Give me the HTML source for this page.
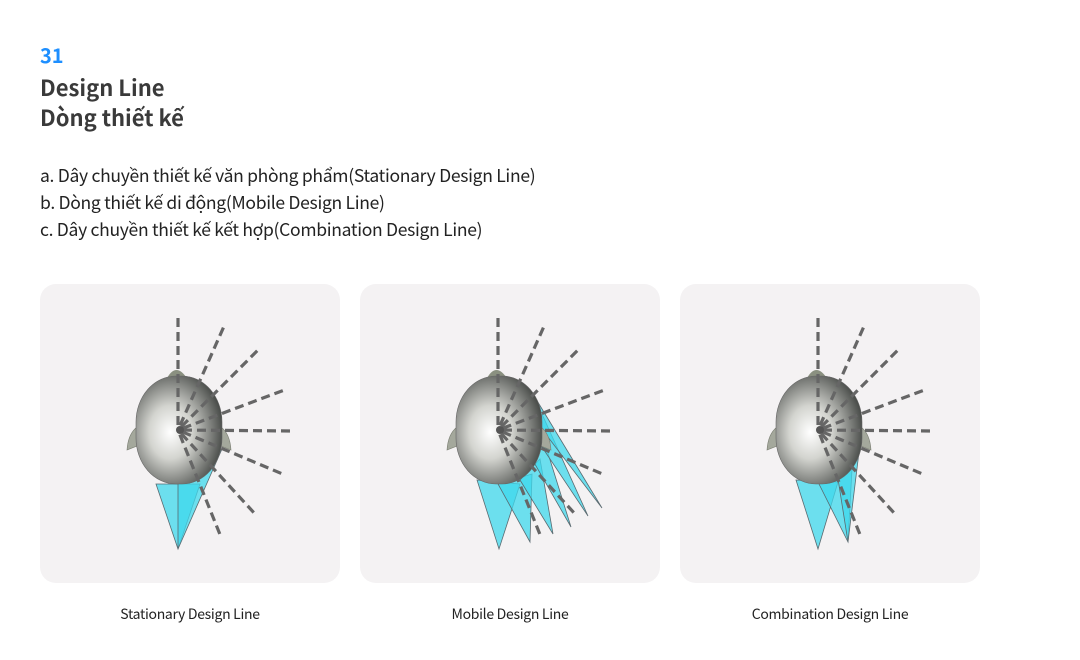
<!DOCTYPE html>
<html><head><meta charset="utf-8">
<style>
body{margin:0;width:1080px;height:660px;background:#fff;font-family:"Noto Sans CJK KR","Liberation Sans",sans-serif;color:#333;position:relative;overflow:hidden}
.num{position:absolute;left:40px;top:40px;font-size:20px;font-weight:bold;color:#1e8fff;line-height:30px}
.t1{position:absolute;left:40px;top:71px;font-size:22px;font-weight:bold;color:#3a3a3a;line-height:32px}
.t2{position:absolute;left:40px;top:101px;font-size:22px;font-weight:bold;color:#3a3a3a;line-height:32px}
.li{position:absolute;left:40px;font-size:17.5px;color:#222;line-height:24px;letter-spacing:-0.3px}
.panel{position:absolute;top:284px;width:300px;height:299px;border-radius:16px;background:#f4f2f3}
.cap{position:absolute;top:603px;width:300px;text-align:center;font-size:14px;color:#222;letter-spacing:-0.3px;line-height:22px}
</style></head><body>
<div class="num">31</div>
<div class="t1">Design Line</div>
<div class="t2">Dòng thiết kế</div>
<div class="li" style="top:164px">a. Dây chuyền thiết kế văn phòng phẩm(Stationary Design Line)</div>
<div class="li" style="top:191px">b. Dòng thiết kế di động(Mobile Design Line)</div>
<div class="li" style="top:218px">c. Dây chuyền thiết kế kết hợp(Combination Design Line)</div>
<div class="panel" style="left:40px"><svg id="p0" width="300" height="299"></svg></div>
<div class="panel" style="left:360px"><svg id="p1" width="300" height="299"></svg></div>
<div class="panel" style="left:680px"><svg id="p2" width="300" height="299"></svg></div>
<div class="cap" style="left:40px">Stationary Design Line</div>
<div class="cap" style="left:360px">Mobile Design Line</div>
<div class="cap" style="left:680px">Combination Design Line</div>
<script>
const rayEnds=[[138,31],[185,40],[220,64],[247,105],[254,147],[245,191],[216,231],[181,253]];
const cones=[
 [[[116,200],[160,200],[138,265]],[[138,200],[182,165],[138,265]]],
 [[[117,196],[160,200],[139,265]],[[138,200],[172,190],[170,258]],[[160,196],[180,175],[193,250]],[[172,175],[182,150],[211,243]],[[180,160],[182,130],[228,232]],[[178,140],[176,115],[242,224]]],
 [[[116,196],[158,198],[138,265]],[[138,198],[172,185],[168,258]],[[158,195],[180,160],[168,258]]]
];
const NS='http://www.w3.org/2000/svg';
function mk(t,a,p){const e=document.createElementNS(NS,t);for(const k in a)e.setAttribute(k,a[k]);p.appendChild(e);return e;}
for(let i=0;i<3;i++){
 const s=document.getElementById('p'+i);
 const d=mk('defs',{},s);
 const g=mk('radialGradient',{id:'hg'+i,cx:'0.4',cy:'0.52',r:'0.62'},d);
 mk('stop',{offset:'0','stop-color':'#ffffff'},g);
 mk('stop',{offset:'0.4','stop-color':'#d3d4cf'},g);
 mk('stop',{offset:'1','stop-color':'#474a47'},g);
 cones[i].forEach(c=>{
  const p=mk('polygon',{points:c.map(q=>q.join(',')).join(' '),fill:'#3fd8ec','fill-opacity':'0.75',stroke:'#5a6a70','stroke-width':'0.8'},s);
  
  
 });
 const nub=mk('path',{d:'M126,96 Q136,76 148,96 Z',fill:'#8a9080'},s);
 
 
 mk('path',{d:'M97,143 Q88,150 87,166 L97,162 Z',fill:'#a4a89c',stroke:'#7a7e72','stroke-width':'0.6'},s);
 mk('path',{d:'M181,143 Q190,150 191,166 L181,162 Z',fill:'#a4a89c',stroke:'#7a7e72','stroke-width':'0.6'},s);
 const h=mk('rect',{x:96,y:92,width:86,height:108,rx:40,ry:46,fill:'url(#hg'+i+')',stroke:'#666','stroke-width':'0.6'},s);
 
 
 rayEnds.forEach(r=>{
  const dx=r[0]-138,dy=r[1]-146,L=Math.hypot(dx,dy);
  const l=mk('line',{x1:138+dx/L*5,y1:146+dy/L*5,x2:r[0],y2:r[1],stroke:'#666','stroke-width':'3.2','stroke-dasharray':'9 5'},s);
  
  
 });
 mk('circle',{cx:140,cy:146,r:4,fill:'#555'},s);
}
</script>
</body></html>
